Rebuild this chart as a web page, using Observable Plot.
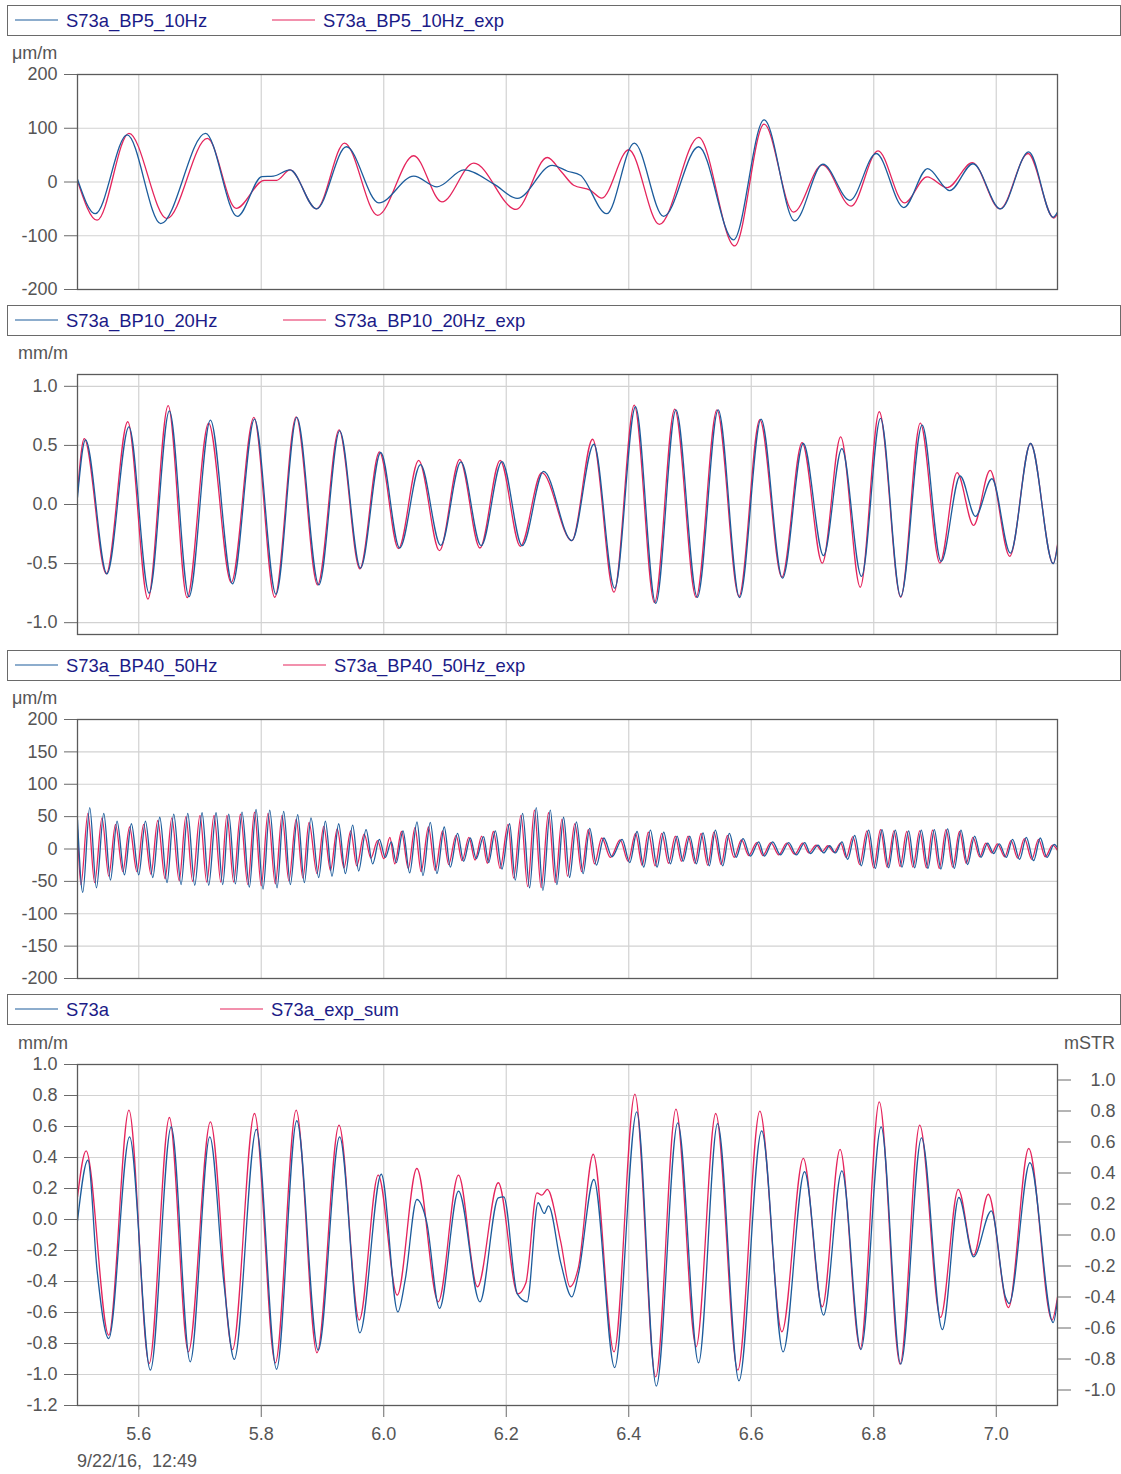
<!DOCTYPE html>
<html>
<head>
<meta charset="utf-8">
<script src="https://cdn.jsdelivr.net/npm/d3@7"></script>
<script src="https://cdn.jsdelivr.net/npm/@observablehq/plot@0.6"></script>
<style>
  body { margin: 0; background: #fff; font-family: "Liberation Sans", Arial, sans-serif; }
  #root { position: relative; width: 1121px; height: 1474px; overflow: hidden; background: #fff; }
  .legend { position: absolute; left: 7px; width: 1114px; height: 31px; box-sizing: border-box; border: 1px solid #6a6a6a; background: #fff; z-index: 2; }
  .lt { position: absolute; top: 0; line-height: 29px; font-size: 18.4px; color: #1b1b87; white-space: nowrap; }
  .unit { position: absolute; font-size: 18px; line-height: 20px; color: #555; z-index: 3; white-space: pre; }
  svg { position: absolute; left: 0; }
</style>
</head>
<body>
<div id="root"></div>
<script>
// ---------- shared axis data ----------
const xDomain = [5.5, 7.1];
const xTicks = [5.6, 5.8, 6.0, 6.2, 6.4, 6.6, 6.8, 7.0];

// ---------- panel 1: 5-10 Hz band (µm/m) ----------
const bp5Names = ["S73a_BP5_10Hz", "S73a_BP5_10Hz_exp"];
const bp5Ticks = [-200, -100, 0, 100, 200];
const bp5Meas = [[5.5,5],[5.529,-59],[5.581,87.5],[5.636,-77.5],[5.709,90.6],[5.761,-64],[5.801,10],[5.820,11],[5.847,22.5],[5.890,-50],[5.939,65.6],[5.992,-38.8],[6.049,11],[6.087,-9],[6.131,22.5],[6.180,-4],[6.218,-30.6],[6.275,31],[6.300,20],[6.321,12.5],[6.364,-59],[6.409,72.5],[6.457,-64],[6.514,65.6],[6.571,-107.5],[6.621,115.6],[6.671,-72.5],[6.717,33],[6.761,-34],[6.804,53],[6.849,-47.5],[6.888,25],[6.924,-16],[6.962,34],[7.007,-50],[7.053,56],[7.093,-65.6],[7.1,-56]];
const bp5Exp = [[5.5,2],[5.532,-71],[5.584,90.6],[5.646,-68],[5.712,81],[5.759,-49],[5.805,3],[5.825,3],[5.847,22.5],[5.890,-50],[5.936,72.5],[5.990,-62],[6.049,48.8],[6.095,-37],[6.147,35],[6.216,-51],[6.267,45.6],[6.290,19],[6.310,-6],[6.337,-15],[6.356,-30],[6.400,60],[6.450,-79],[6.514,83],[6.573,-119],[6.621,107.5],[6.669,-56],[6.716,32],[6.763,-45],[6.807,58],[6.850,-39],[6.887,9.4],[6.920,-10.6],[6.961,36],[7.006,-50],[7.052,53],[7.094,-67],[7.1,-59]];

// ---------- panel 2: 10-20 Hz band (mm/m) ----------
const bp10Names = ["S73a_BP10_20Hz", "S73a_BP10_20Hz_exp"];
const bp10Ticks = [-1.0, -0.5, 0.0, 0.5, 1.0];
const bp10Meas = [[5.5,0.06],[5.513,0.547],[5.548,-0.586],[5.584,0.657],[5.617,-0.75],[5.650,0.793],[5.682,-0.78],[5.717,0.714],[5.753,-0.671],[5.789,0.722],[5.824,-0.759],[5.858,0.737],[5.894,-0.68],[5.928,0.623],[5.962,-0.538],[5.995,0.44],[6.026,-0.368],[6.060,0.337],[6.093,-0.346],[6.126,0.36],[6.159,-0.348],[6.193,0.363],[6.226,-0.348],[6.261,0.28],[6.307,-0.306],[6.343,0.51],[6.377,-0.708],[6.411,0.827],[6.444,-0.836],[6.477,0.8],[6.512,-0.785],[6.546,0.8],[6.581,-0.788],[6.616,0.722],[6.651,-0.623],[6.685,0.516],[6.718,-0.433],[6.748,0.473],[6.780,-0.609],[6.811,0.728],[6.844,-0.779],[6.879,0.671],[6.910,-0.482],[6.941,0.241],[6.966,-0.1],[6.993,0.218],[7.023,-0.411],[7.056,0.516],[7.093,-0.501],[7.1,-0.354]];
const bp10Exp = [[5.5,0.1],[5.511,0.558],[5.547,-0.586],[5.582,0.7],[5.615,-0.8],[5.648,0.836],[5.679,-0.788],[5.714,0.688],[5.751,-0.66],[5.788,0.737],[5.822,-0.785],[5.857,0.742],[5.892,-0.68],[5.927,0.632],[5.961,-0.544],[5.993,0.445],[6.024,-0.374],[6.057,0.374],[6.091,-0.391],[6.124,0.382],[6.157,-0.368],[6.190,0.374],[6.223,-0.354],[6.258,0.269],[6.307,-0.306],[6.341,0.552],[6.376,-0.742],[6.409,0.841],[6.442,-0.83],[6.475,0.807],[6.510,-0.785],[6.544,0.8],[6.580,-0.779],[6.614,0.717],[6.650,-0.615],[6.683,0.524],[6.716,-0.496],[6.746,0.572],[6.778,-0.7],[6.809,0.785],[6.844,-0.785],[6.876,0.688],[6.908,-0.496],[6.936,0.269],[6.963,-0.176],[6.990,0.289],[7.022,-0.439],[7.056,0.516],[7.093,-0.501],[7.1,-0.34]];

// ---------- panel 3: 40-50 Hz band (µm/m) ----------
const bp40Names = ["S73a_BP40_50Hz", "S73a_BP40_50Hz_exp"];
const bp40Ticks = [-200, -150, -100, -50, 0, 50, 100, 150, 200];
const bp40Meas = [[5.5,45],[5.5086,-67],[5.52,64],[5.5309,-60],[5.5429,55],[5.5538,-48],[5.5646,43],[5.5766,-40],[5.588,39],[5.6,-40],[5.6109,43],[5.6229,-44],[5.6343,49],[5.6462,-52],[5.6571,54],[5.6691,-55],[5.68,55],[5.6914,-56],[5.7034,56],[5.7142,-56],[5.7262,56],[5.7371,-55],[5.7469,54],[5.7578,-54],[5.7686,57],[5.7806,-59],[5.7915,61],[5.8029,-62],[5.8138,60],[5.8258,-60],[5.8366,58],[5.8475,-55],[5.8595,53],[5.8704,-52],[5.8812,48],[5.8938,-44],[5.9047,43],[5.9155,-42],[5.9264,39],[5.9373,-38],[5.9493,37],[5.959,-34],[5.9711,30],[5.9819,-23],[5.9928,15],[6.0026,-13],[6.0124,11],[6.0205,-21],[6.0314,28],[6.0423,-37],[6.0543,42],[6.064,-41],[6.076,41],[6.0869,-38],[6.0988,34],[6.1086,-28],[6.1206,24],[6.1304,-19],[6.1413,17],[6.1511,-15],[6.163,19],[6.1712,-21],[6.1821,28],[6.193,-31],[6.2055,39],[6.2147,-48],[6.2267,55],[6.2381,-60],[6.249,64],[6.2599,-64],[6.2719,60],[6.2827,-55],[6.2936,49],[6.3034,-44],[6.3146,42],[6.3255,-38],[6.3363,32],[6.3472,-25],[6.3592,17],[6.3728,-12],[6.3891,15],[6.4016,-21],[6.4136,27],[6.4245,-28],[6.4354,29],[6.4462,-28],[6.4571,26],[6.468,-23],[6.4789,20],[6.4887,-19],[6.4996,20],[6.5104,-23],[6.5213,25],[6.5316,-26],[6.5414,29],[6.5534,-26],[6.5643,24],[6.5752,-13],[6.5866,16],[6.5986,-11],[6.6122,11],[6.6214,-11],[6.635,11],[6.6475,-9],[6.6611,10],[6.6736,-9],[6.6872,10],[6.6965,-7],[6.709,6],[6.7182,-6],[6.728,5],[6.7373,-6],[6.7482,11],[6.7574,-16],[6.7689,21],[6.7797,-26],[6.7917,29],[6.8026,-30],[6.8134,30],[6.8243,-29],[6.8352,29],[6.8461,-28],[6.857,28],[6.8668,-29],[6.8776,29],[6.8885,-30],[6.8988,30],[6.9097,-31],[6.9206,31],[6.9315,-30],[6.9424,29],[6.9532,-24],[6.9647,20],[6.975,-13],[6.9859,9],[6.9957,-7],[7.0049,8],[7.0164,-13],[7.0267,15],[7.0381,-16],[7.049,18],[7.061,-18],[7.0719,17],[7.0827,-13],[7.0947,7],[7.1,2]];
const bp40Exp = [[5.5,30],[5.5056,-55],[5.517,55],[5.528,-52],[5.540,48],[5.551,-42],[5.562,38],[5.574,-35],[5.585,34],[5.597,-35],[5.608,38],[5.620,-39],[5.631,44],[5.643,-46],[5.654,48],[5.666,-49],[5.677,50],[5.688,-50],[5.700,52],[5.711,-51],[5.723,52],[5.734,-51],[5.744,52],[5.755,-51],[5.766,54],[5.778,-55],[5.789,57],[5.800,-57],[5.811,55],[5.823,-54],[5.834,52],[5.845,-49],[5.857,46],[5.868,-45],[5.878,41],[5.891,-38],[5.902,35],[5.913,-33],[5.924,31],[5.935,-29],[5.946,28],[5.956,-26],[5.968,23],[5.979,-14],[5.990,13],[6.000,-15],[6.010,18],[6.018,-23],[6.029,27],[6.040,-30],[6.051,33],[6.061,-35],[6.073,34],[6.084,-33],[6.096,28],[6.106,-24],[6.118,21],[6.128,-18],[6.139,18],[6.149,-17],[6.160,20],[6.169,-22],[6.179,27],[6.190,-30],[6.203,38],[6.212,-45],[6.224,52],[6.235,-58],[6.246,60],[6.257,-60],[6.269,56],[6.280,-52],[6.291,46],[6.300,-42],[6.312,39],[6.323,-35],[6.334,30],[6.344,-23],[6.356,17],[6.370,-13],[6.386,14],[6.399,-19],[6.411,24],[6.422,-25],[6.432,26],[6.443,-26],[6.454,24],[6.465,-22],[6.476,20],[6.486,-19],[6.497,20],[6.508,-22],[6.518,24],[6.529,-25],[6.539,26],[6.551,-24],[6.561,21],[6.572,-13],[6.584,14],[6.596,-10],[6.609,10],[6.619,-10],[6.632,10],[6.645,-9],[6.658,9],[6.671,-8],[6.684,9],[6.694,-6],[6.706,6],[6.716,-4],[6.725,5],[6.735,-5],[6.746,9],[6.755,-13],[6.766,19],[6.777,-24],[6.789,28],[6.800,-29],[6.811,30],[6.822,-28],[6.833,28],[6.843,-27],[6.854,27],[6.864,-28],[6.875,28],[6.886,-29],[6.896,29],[6.907,-30],[6.918,30],[6.929,-28],[6.940,27],[6.951,-22],[6.962,18],[6.973,-12],[6.983,9],[6.993,-6],[7.002,8],[7.014,-12],[7.024,13],[7.035,-14],[7.046,16],[7.058,-16],[7.069,15],[7.080,-12],[7.092,6],[7.1,-2]];

// ---------- panel 4: total signal (mm/m, right axis mSTR) ----------
const sumNames = ["S73a", "S73a_exp_sum"];
const sumTicks = [-1.2, -1.0, -0.8, -0.6, -0.4, -0.2, 0.0, 0.2, 0.4, 0.6, 0.8, 1.0];
const mstrTicks = [-1.0, -0.8, -0.6, -0.4, -0.2, 0.0, 0.2, 0.4, 0.6, 0.8, 1.0];
const mstrOffset = 0.1; // mSTR value v sits at mm/m value v - 0.1
const sumMeas = [[5.5,-0.01],[5.517,0.383],[5.532,-0.33],[5.551,-0.768],[5.585,0.533],[5.619,-0.972],[5.653,0.598],[5.684,-0.918],[5.716,0.533],[5.739,-0.41],[5.756,-0.903],[5.792,0.581],[5.825,-0.966],[5.858,0.637],[5.893,-0.843],[5.928,0.533],[5.961,-0.731],[5.996,0.292],[6.023,-0.596],[6.035,-0.39],[6.054,0.129],[6.070,-0.015],[6.091,-0.574],[6.122,0.183],[6.157,-0.531],[6.187,0.14],[6.196,0.146],[6.218,-0.48],[6.234,-0.531],[6.252,0.108],[6.262,0.039],[6.269,0.088],[6.289,-0.28],[6.307,-0.499],[6.318,-0.348],[6.343,0.258],[6.377,-0.955],[6.413,0.695],[6.445,-1.075],[6.480,0.624],[6.514,-0.925],[6.545,0.619],[6.580,-1.041],[6.617,0.572],[6.652,-0.854],[6.687,0.308],[6.718,-0.617],[6.748,0.314],[6.779,-0.839],[6.812,0.598],[6.844,-0.933],[6.878,0.527],[6.912,-0.71],[6.939,0.142],[6.963,-0.241],[6.992,0.056],[7.015,-0.5],[7.021,-0.542],[7.055,0.366],[7.093,-0.665],[7.1,-0.52]];
const sumExp = [[5.5,0.146],[5.514,0.443],[5.551,-0.746],[5.584,0.705],[5.617,-0.929],[5.650,0.658],[5.681,-0.854],[5.717,0.63],[5.753,-0.839],[5.789,0.684],[5.823,-0.925],[5.857,0.705],[5.891,-0.86],[5.927,0.609],[5.960,-0.649],[5.991,0.286],[6.022,-0.488],[6.054,0.329],[6.089,-0.531],[6.122,0.286],[6.153,-0.434],[6.187,0.237],[6.219,-0.48],[6.232,-0.41],[6.250,0.172],[6.258,0.157],[6.267,0.194],[6.289,-0.144],[6.304,-0.434],[6.318,-0.305],[6.342,0.421],[6.376,-0.854],[6.410,0.809],[6.444,-1.015],[6.477,0.712],[6.510,-0.821],[6.542,0.684],[6.578,-0.972],[6.614,0.699],[6.650,-0.725],[6.685,0.394],[6.716,-0.563],[6.745,0.452],[6.778,-0.832],[6.809,0.759],[6.843,-0.933],[6.875,0.609],[6.909,-0.632],[6.938,0.194],[6.963,-0.23],[6.987,0.163],[7.020,-0.568],[7.053,0.458],[7.091,-0.649],[7.1,-0.5]];

const dateLabel = "9/22/16,  12:49";

// ---------- styling / layout ----------
const BLUE = "#1c5c9c";
const RED = "#e5245c";
const FONT = "'Liberation Sans', Arial, sans-serif";
const fmtInt = d => String(d);
const fmt1 = d => { const r = Math.round(d * 10) / 10; return r.toFixed(1); };

const panels = [
  {names: bp5Names, meas: bp5Meas, exp: bp5Exp, unit: "μm/m", unitLeft: 12, yDomain: [-200, 200], yTicks: bp5Ticks, fmt: fmtInt,
   legendTop: 5, frameTop: 73, frameH: 215, mb: 10, item2: 272},
  {names: bp10Names, meas: bp10Meas, exp: bp10Exp, unit: "mm/m", unitLeft: 18, yDomain: [-1.1, 1.1], yTicks: bp10Ticks, fmt: fmt1,
   legendTop: 305, frameTop: 373, frameH: 260, mb: 10, item2: 283},
  {names: bp40Names, meas: bp40Meas, exp: bp40Exp, unit: "μm/m", unitLeft: 12, yDomain: [-200, 200], yTicks: bp40Ticks, fmt: fmtInt,
   legendTop: 650, frameTop: 718, frameH: 259, mb: 10, item2: 283},
  {names: sumNames, meas: sumMeas, exp: sumExp, unit: "mm/m", unitLeft: 18, yDomain: [-1.2, 1.0], yTicks: sumTicks, fmt: fmt1,
   legendTop: 994, frameTop: 1063, frameH: 341, mb: 70, item2: 220, last: true}
];

const root = document.getElementById("root");
const MT = 20;
const SVGNS = "http://www.w3.org/2000/svg";

function addDiv(cls, text, css) {
  const d = document.createElement("div");
  d.className = cls;
  if (text != null) d.textContent = text;
  Object.assign(d.style, css);
  root.appendChild(d);
  return d;
}

function swatch(color, left) {
  const s = document.createElementNS(SVGNS, "svg");
  s.setAttribute("width", "43");
  s.setAttribute("height", "4");
  s.style.position = "absolute";
  s.style.left = left + "px";
  s.style.top = "12px";
  const l = document.createElementNS(SVGNS, "line");
  l.setAttribute("x1", "0"); l.setAttribute("x2", "43");
  l.setAttribute("y1", "2"); l.setAttribute("y2", "2");
  l.setAttribute("stroke", color);
  l.setAttribute("stroke-width", "1.1");
  s.appendChild(l);
  return s;
}

panels.forEach(p => {
  // legend box
  const lg = addDiv("legend", null, {top: p.legendTop + "px"});
  const items = [[p.names[0], BLUE, 15], [p.names[1], RED, p.item2]];
  items.forEach(([name, color, x]) => {
    lg.appendChild(swatch(color, x - 8));
    const t = document.createElement("div");
    t.className = "lt";
    t.textContent = name;
    t.style.left = (x - 8 + 51) + "px";
    lg.appendChild(t);
  });
  // unit label
  addDiv("unit", p.unit, {left: p.unitLeft + "px", top: (p.frameTop - 30) + "px"});

  const marks = [
    Plot.ruleX(xTicks, {stroke: "#d2d2d2", strokeWidth: 1.2}),
    Plot.ruleY(p.yTicks, {stroke: "#d2d2d2", strokeWidth: 1.2}),
    Plot.axisY(p.yTicks, {anchor: "left", tickSize: 13, tickPadding: 7, tickFormat: p.fmt, label: null, stroke: "#6a6a6a"}),
    Plot.line(p.exp, {x: d => d[0], y: d => d[1], stroke: RED, strokeWidth: 1.3, curve: "monotone-x", clip: true}),
    Plot.line(p.meas, {x: d => d[0], y: d => d[1], stroke: BLUE, strokeWidth: 1.3, curve: "monotone-x", clip: true}),
    Plot.frame({stroke: "#5a5a5a", strokeWidth: 1.3})
  ];
  if (p.last) {
    marks.push(Plot.axisX(xTicks, {tickSize: 12, tickPadding: 10, tickFormat: fmt1, label: null, stroke: "#6a6a6a"}));
    marks.push(Plot.axisY(mstrTicks.map(v => v - mstrOffset), {
      anchor: "right", tickSize: 13, tickPadding: 45, textAnchor: "end",
      tickFormat: d => fmt1(d + mstrOffset), label: null, stroke: "#6a6a6a"
    }));
  }
  const svg = Plot.plot({
    width: 1121,
    height: MT + p.frameH + p.mb,
    marginLeft: 77, marginRight: 64, marginTop: MT, marginBottom: p.mb,
    style: {fontFamily: FONT, fontSize: "18px", color: "#555", background: "transparent", overflow: "visible"},
    x: {domain: xDomain, axis: p.last ? undefined : null},
    y: {domain: p.yDomain},
    marks
  });
  svg.style.top = (p.frameTop - MT + 1) + "px";
  root.appendChild(svg);

  if (p.last) {
    addDiv("unit", "mSTR", {right: "6px", top: (p.frameTop - 30) + "px"});
    addDiv("unit", dateLabel, {left: "77px", top: "1451px"});
  }
});
</script>
</body>
</html>
